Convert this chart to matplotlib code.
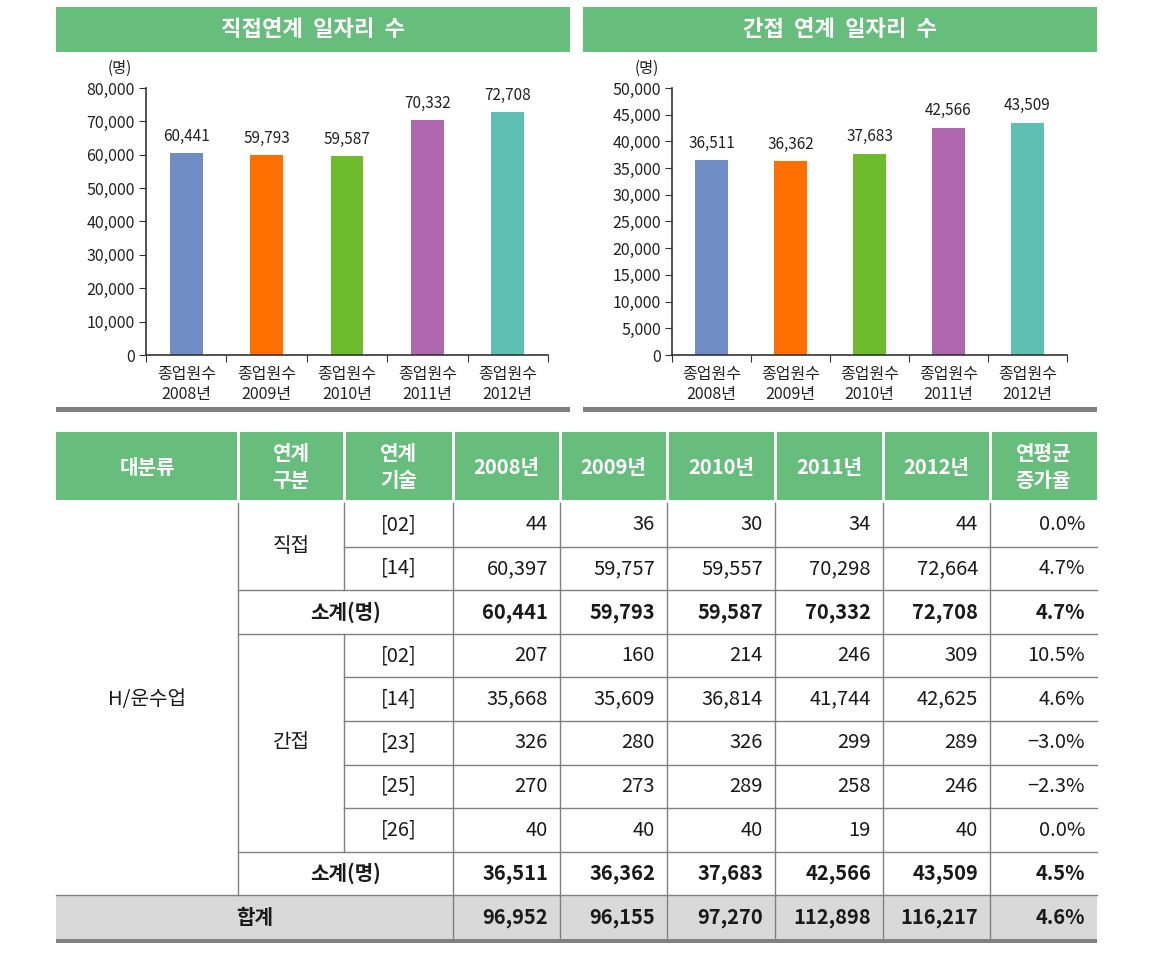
import matplotlib
matplotlib.use("Agg")
import matplotlib.pyplot as plt
from matplotlib.patches import Rectangle

plt.rcParams['font.family'] = ['Noto Sans CJK KR', 'DejaVu Sans']

# ---- data ----
years = ['2008년', '2009년', '2010년', '2011년', '2012년']
bar_labels = ['종업원수\n' + y for y in years]
direct_02 = [44, 36, 30, 34, 44]
direct_14 = [60397, 59757, 59557, 70298, 72664]
direct_sub = [60441, 59793, 59587, 70332, 72708]
indirect_02 = [207, 160, 214, 246, 309]
indirect_14 = [35668, 35609, 36814, 41744, 42625]
indirect_23 = [326, 280, 326, 299, 289]
indirect_25 = [270, 273, 289, 258, 246]
indirect_26 = [40, 40, 40, 19, 40]
indirect_sub = [36511, 36362, 37683, 42566, 43509]
total = [96952, 96155, 97270, 112898, 116217]
growth = ['0.0%', '4.7%', '4.7%', '10.5%', '4.6%', '−3.0%', '−2.3%', '0.0%', '4.5%', '4.6%']

bar_colors = ['#6F8DC4', '#FF6F00', '#6EBB2B', '#AE67AE', '#5EC0B3']
GREEN = '#66BD7C'
GRAY = '#808080'
W, H = 1156, 972

fig = plt.figure(figsize=(W / 100, H / 100), dpi=100)
ov = fig.add_axes([0, 0, 1, 1])
ov.set_xlim(0, W)
ov.set_ylim(H, 0)
ov.axis('off')


def fax(x0, x1, ytop, ybot):
    return [x0 / W, (H - ybot) / H, (x1 - x0) / W, (ybot - ytop) / H]


# ---- bar charts ----
panels = [
    ('직접연계  일자리  수', direct_sub, 80000, 10000, (56, 570), (146, 548), 120),
    ('간접  연계  일자리  수', indirect_sub, 50000, 5000, (583, 1097), (672, 1067), 647),
]
for title, vals, ymax, step, (px0, px1), (ax0, ax1), unit_x in panels:
    ov.add_patch(Rectangle((px0, 7), px1 - px0, 45, color=GREEN, lw=0))
    ov.text((px0 + px1) / 2, 30, title, color='white', fontsize=16, fontweight='bold',
            ha='center', va='center')
    ov.add_patch(Rectangle((px0, 407), px1 - px0, 5, color=GRAY, lw=0))
    ov.text(unit_x, 68, '(명)', fontsize=11, ha='center', va='center', color='#222222')

    ax = fig.add_axes(fax(ax0, ax1, 88, 355))
    x = range(len(vals))
    bars = ax.bar(x, vals, width=0.41, color=bar_colors)
    ax.bar_label(bars, labels=[f'{v:,}' for v in vals], padding=6, fontsize=11, color='#222222')
    ax.set_xlim(-0.5, len(vals) - 0.5)
    ax.set_ylim(0, ymax)
    ax.set_yticks(range(0, ymax + 1, step))
    ax.set_yticklabels([f'{v:,}' for v in range(0, ymax + 1, step)], fontsize=11.5, color='#222222')
    ax.set_xticks([i - 0.5 for i in range(len(vals) + 1)])
    ax.set_xticklabels([])
    ax.set_xticks(list(x), minor=True)
    ax.set_xticklabels(bar_labels, minor=True, fontsize=11.5, color='#222222', linespacing=1.2)
    ax.tick_params(axis='x', which='minor', length=0, pad=8)
    ax.tick_params(axis='x', which='major', length=5, direction='out', color='#333333')
    ax.tick_params(axis='y', length=5, direction='out', color='#333333', pad=3)
    for s in ['top', 'right']:
        ax.spines[s].set_visible(False)
    for s in ['left', 'bottom']:
        ax.spines[s].set_color('#333333')
        ax.spines[s].set_linewidth(1.2)

# ---- table ----
cols = [56, 238, 344, 453, 560, 667, 775, 883, 990, 1097]
hdr_top, hdr_bot = 432, 500
row_top = 503
rh = 43.6
FS = 14.5
TXT = '#1a1a1a'

headers = ['대분류', '연계\n구분', '연계\n기술'] + years + ['연평균\n증가율']
for i, h in enumerate(headers):
    x0 = cols[i] + (0 if i == 0 else 1.5)
    x1 = cols[i + 1] - (0 if i == len(headers) - 1 else 1.5)
    ov.add_patch(Rectangle((x0, hdr_top), x1 - x0, hdr_bot - hdr_top, color=GREEN, lw=0))
    ov.text((cols[i] + cols[i + 1]) / 2, (hdr_top + hdr_bot) / 2 + 1, h, color='white',
            fontsize=FS, fontweight='bold', ha='center', va='center', linespacing=1.3)

rows = [
    ('[02]', direct_02, False),
    ('[14]', direct_14, False),
    ('소계(명)', direct_sub, True),
    ('[02]', indirect_02, False),
    ('[14]', indirect_14, False),
    ('[23]', indirect_23, False),
    ('[25]', indirect_25, False),
    ('[26]', indirect_26, False),
    ('소계(명)', indirect_sub, True),
    ('합계', total, True),
]
ys = [row_top + i * rh for i in range(len(rows) + 1)]

# total row background
ov.add_patch(Rectangle((cols[0], ys[9]), cols[-1] - cols[0], rh, color='#D9D9D9', lw=0))

lw = 1.0
for i, (lab, vals, strong) in enumerate(rows):
    yc = (ys[i] + ys[i + 1]) / 2
    wt = 'bold' if strong else 'normal'
    if lab == '합계':
        ov.text((cols[0] + cols[3]) / 2, yc, lab, fontsize=FS, fontweight=wt, ha='center', va='center', color=TXT)
    elif strong:
        ov.text((cols[1] + cols[3]) / 2, yc, lab, fontsize=FS, fontweight=wt, ha='center', va='center', color=TXT)
    else:
        ov.text((cols[2] + cols[3]) / 2, yc, lab, fontsize=FS, ha='center', va='center', color=TXT)
        ov.plot([cols[2], cols[2]], [ys[i], ys[i + 1]], color=GRAY, lw=lw)
    for j, v in enumerate(vals):
        ov.text(cols[4 + j] - 12, yc, f'{v:,}', fontsize=FS, fontweight=wt, ha='right', va='center', color=TXT)
    ov.text(cols[9] - 12, yc, growth[i], fontsize=FS, fontweight=wt, ha='right', va='center', color=TXT)
    for c in cols[3:9]:
        ov.plot([c, c], [ys[i], ys[i + 1]], color=GRAY, lw=lw)

# group labels
ov.text((cols[0] + cols[1]) / 2, (ys[0] + ys[9]) / 2, 'H/운수업', fontsize=FS, ha='center', va='center', color=TXT)
ov.text((cols[1] + cols[2]) / 2, (ys[0] + ys[2]) / 2, '직접', fontsize=FS, ha='center', va='center', color=TXT)
ov.text((cols[1] + cols[2]) / 2, (ys[3] + ys[8]) / 2, '간접', fontsize=FS, ha='center', va='center', color=TXT)
ov.plot([cols[1], cols[1]], [ys[0], ys[9]], color=GRAY, lw=lw)

# horizontal rules
for i in range(1, 10):
    if i in (1, 4, 5, 6, 7):
        x0 = cols[2]
    elif i == 9:
        x0 = cols[0]
    else:
        x0 = cols[1]
    ov.plot([x0, cols[-1]], [ys[i], ys[i]], color=GRAY, lw=lw)
ov.add_patch(Rectangle((cols[0], ys[10]), cols[-1] - cols[0], 4, color=GRAY, lw=0))

fig.savefig('out.png', dpi=100)
